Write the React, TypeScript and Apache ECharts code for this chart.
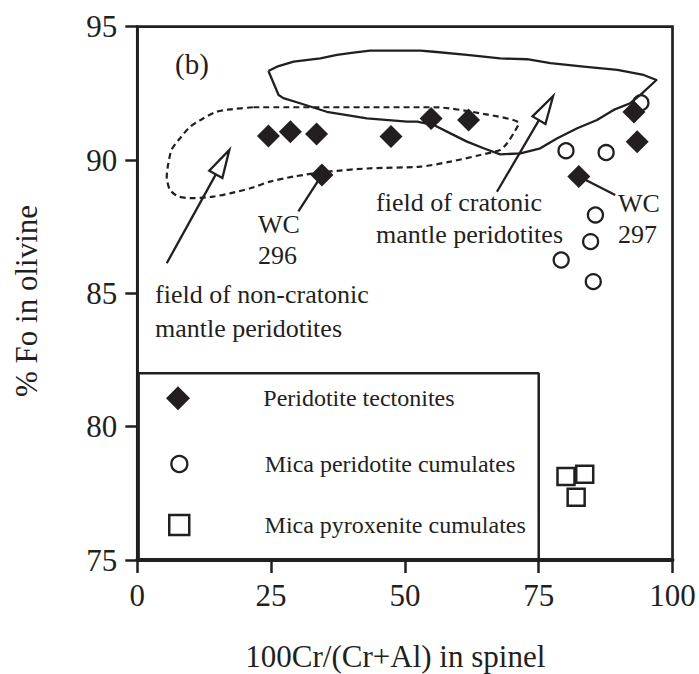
import React, { useEffect, useRef } from 'react';
import * as echarts from 'echarts';

const INK = '#231f20';
const FONT = '"Liberation Serif", "Times New Roman", serif';

// Axis ranges
const X_MIN = 0;
const X_MAX = 100;
const X_STEP = 25;
const Y_MIN = 75;
const Y_MAX = 95;
const Y_STEP = 5;

// Series names
const NAME_TECTONITES = 'Peridotite tectonites';
const NAME_MICA_PERIDOTITE = 'Mica peridotite cumulates';
const NAME_MICA_PYROXENITE = 'Mica pyroxenite cumulates';

// [100Cr/(Cr+Al) in spinel, % Fo in olivine]
const PERIDOTITE_TECTONITES: number[][] = [
  [24.5, 90.9], [28.6, 91.06], [33.5, 90.98], [47.4, 90.88], [34.5, 89.44],
  [54.9, 91.56], [61.9, 91.5], [92.8, 91.8], [93.4, 90.69], [82.5, 89.38],
];
const MICA_PERIDOTITE_CUMULATES: number[][] = [
  [94.1, 92.15], [80.1, 90.35], [87.6, 90.28], [85.6, 87.94], [84.7, 86.94],
  [79.2, 86.25], [85.2, 85.44],
];
const MICA_PYROXENITE_CUMULATES: number[][] = [
  [80.1, 78.13], [83.6, 78.22], [82.0, 77.35],
];

// Field outlines
const CRATONIC_FIELD: number[][] = [
  [24.5, 93.34], [26.1, 93.5], [29.2, 93.69], [34.2, 93.81], [37.3, 93.94], [40.4, 94.03],
  [43.5, 94.1], [52.9, 94.1], [55.4, 94.06], [61.6, 93.94], [67.8, 93.81], [72.8, 93.78],
  [77.2, 93.63], [83.4, 93.5], [89.7, 93.38], [94.6, 93.19], [97.0, 93.0],
  [94.0, 92.44], [92.1, 92.13], [89.0, 91.88], [85.9, 91.5], [82.2, 91.19], [78.4, 90.81],
  [75.3, 90.44], [71.6, 90.25], [67.8, 90.21], [64.7, 90.44], [61.6, 90.69], [58.5, 91.0],
  [55.4, 91.31], [52.3, 91.44], [50.4, 91.44], [42.9, 91.56], [35.4, 91.81], [30.4, 92.13],
  [27.3, 92.32], [26.4, 92.44], [24.5, 93.34],
];
const NON_CRATONIC_FIELD: number[][] = [
  [21.7, 91.98], [52.9, 91.98], [55.4, 91.98], [64.7, 91.73], [71.3, 91.38], [70.3, 91.0],
  [69.1, 90.63], [67.8, 90.38], [64.1, 90.19], [58.5, 89.94], [52.9, 89.75], [43.5, 89.69],
  [35.4, 89.56], [29.2, 89.38], [24.8, 89.19], [21.1, 88.94], [17.3, 88.75], [14.2, 88.63],
  [10.5, 88.57], [7.7, 88.63], [6.1, 88.88], [5.5, 89.38], [5.8, 89.88], [6.4, 90.38],
  [7.7, 90.75], [9.9, 91.25], [12.3, 91.56], [14.8, 91.81], [17.3, 91.9], [21.7, 91.98],
];

// Arrows [x0, y0, xTip, yTip] and leader lines [x0, y0, x1, y1]
const FIELD_ARROWS: number[][] = [
  [5.5, 86.13, 17.2, 90.38],
  [67.2, 88.81, 77.7, 92.4],
];
const LEADER_LINES: number[][] = [
  [34.5, 89.44, 30.1, 88.07],
  [82.5, 89.38, 89.3, 88.69],
];
// Legend frame corners in data units
const LEGEND_FRAME: number[][] = [[0.25, 75], [0.25, 82], [75, 82], [75, 75]];

export default function App() {
  const ref = useRef<HTMLDivElement>(null);

  useEffect(() => {
    if (!ref.current) return;
    const chart = echarts.init(ref.current, undefined, { renderer: 'svg' });

    const legendBase = {
      orient: 'vertical',
      padding: 0,
      itemWidth: 160.6,
      itemGap: 0,
      selectedMode: false,
      symbolKeepAspect: true,
      textStyle: { fontSize: 24, fontFamily: FONT, color: INK },
    };

    const segRender = (arrow: boolean) => (params: any, api: any) => {
      const p1 = api.coord([api.value(0), api.value(1)]);
      const p2 = api.coord([api.value(2), api.value(3)]);
      if (!arrow) {
        return {
          type: 'line',
          shape: { x1: p1[0], y1: p1[1], x2: p2[0], y2: p2[1] },
          style: { stroke: INK, lineWidth: 2.3 },
        };
      }
      const dx = p2[0] - p1[0];
      const dy = p2[1] - p1[1];
      const len = Math.hypot(dx, dy);
      const ux = dx / len;
      const uy = dy / len;
      const headLen = 28;
      const headW = 15;
      const bx = p2[0] - ux * headLen;
      const by = p2[1] - uy * headLen;
      const nx = -uy;
      const ny = ux;
      return {
        type: 'group',
        children: [
          {
            type: 'line',
            shape: { x1: p1[0], y1: p1[1], x2: bx, y2: by },
            style: { stroke: INK, lineWidth: 2.3 },
          },
          {
            type: 'polygon',
            shape: {
              points: [
                [p2[0], p2[1]],
                [bx + (nx * headW) / 2, by + (ny * headW) / 2],
                [bx - (nx * headW) / 2, by - (ny * headW) / 2],
              ],
            },
            style: { fill: '#ffffff', stroke: INK, lineWidth: 2.3, lineJoin: 'miter' },
          },
        ],
      };
    };

    const textEl = (text: string, x: number, y: number, size = 26) => ({
      type: 'text',
      x,
      y,
      z: 20,
      silent: true,
      style: {
        text,
        fontSize: size,
        fontFamily: FONT,
        fill: INK,
        align: 'left',
        verticalAlign: 'middle',
      },
    });

    chart.setOption({
      animation: false,
      textStyle: { fontFamily: FONT, color: INK },
      grid: {
        left: 137.3,
        top: 26.7,
        right: 26.5,
        bottom: 114,
        show: true,
        borderColor: INK,
        borderWidth: 2.7,
        backgroundColor: 'transparent',
      },
      xAxis: {
        type: 'value',
        min: X_MIN,
        max: X_MAX,
        interval: X_STEP,
        axisLine: { show: true, lineStyle: { color: INK, width: 4 } },
        axisTick: { show: true, length: 13, lineStyle: { color: INK, width: 2.5 } },
        axisLabel: { color: INK, fontSize: 31, fontFamily: FONT, margin: 20 },
        splitLine: { show: false },
      },
      yAxis: {
        type: 'value',
        min: Y_MIN,
        max: Y_MAX,
        interval: Y_STEP,
        axisLine: { show: true, lineStyle: { color: INK, width: 2.7 } },
        axisTick: { show: true, length: 12, lineStyle: { color: INK, width: 2.5 } },
        axisLabel: { color: INK, fontSize: 31, fontFamily: FONT, margin: 20 },
        splitLine: { show: false },
      },
      legend: [
        {
          ...legendBase,
          left: 166,
          top: 386.3,
          itemHeight: 24,
          data: [{ name: NAME_TECTONITES, icon: 'path://M0,-1L1,0L0,1L-1,0Z' }],
          itemStyle: { color: INK, borderWidth: 0 },
        },
        {
          ...legendBase,
          left: 170.2,
          top: 452,
          itemHeight: 16,
          data: [{ name: NAME_MICA_PERIDOTITE, icon: 'circle' }],
          itemStyle: { color: 'transparent', borderColor: INK, borderWidth: 2.3 },
        },
        {
          ...legendBase,
          left: 168,
          top: 513,
          itemHeight: 20,
          data: [{ name: NAME_MICA_PYROXENITE, icon: 'path://M0,0L1,0L1,1L0,1Z' }],
          itemStyle: { color: '#ffffff', borderColor: INK, borderWidth: 2.5 },
        },
      ],
      series: [
        {
          type: 'line',
          name: 'field of cratonic mantle peridotites',
          data: CRATONIC_FIELD,
          symbol: 'none',
          silent: true,
          z: 2,
          lineStyle: { color: INK, width: 2.3, join: 'round' },
        },
        {
          type: 'line',
          name: 'field of non-cratonic mantle peridotites',
          data: NON_CRATONIC_FIELD,
          symbol: 'none',
          smooth: 0.25,
          silent: true,
          z: 2,
          lineStyle: { color: INK, width: 2.2, type: [6, 4] },
        },
        {
          type: 'line',
          name: 'legend frame',
          data: LEGEND_FRAME,
          symbol: 'none',
          silent: true,
          z: 2,
          lineStyle: { color: INK, width: 2.5 },
        },
        {
          type: 'custom',
          name: 'arrows',
          data: FIELD_ARROWS,
          encode: { x: [0, 2], y: [1, 3] },
          silent: true,
          z: 3,
          renderItem: segRender(true),
        },
        {
          type: 'custom',
          name: 'leaders',
          data: LEADER_LINES,
          encode: { x: [0, 2], y: [1, 3] },
          silent: true,
          z: 3,
          renderItem: segRender(false),
        },
        {
          type: 'scatter',
          name: NAME_MICA_PYROXENITE,
          data: MICA_PYROXENITE_CUMULATES,
          symbol: 'rect',
          symbolSize: 17,
          silent: true,
          z: 5,
          itemStyle: { color: '#ffffff', borderColor: INK, borderWidth: 2.5, opacity: 1 },
        },
        {
          type: 'scatter',
          name: NAME_TECTONITES,
          data: PERIDOTITE_TECTONITES,
          symbol: 'diamond',
          symbolSize: 23,
          silent: true,
          z: 5,
          itemStyle: { color: INK, opacity: 1 },
        },
        {
          type: 'scatter',
          name: NAME_MICA_PERIDOTITE,
          data: MICA_PERIDOTITE_CUMULATES,
          symbol: 'circle',
          symbolSize: 15,
          silent: true,
          z: 6,
          itemStyle: { color: 'transparent', borderColor: INK, borderWidth: 2.3, opacity: 1 },
        },
      ],
      graphic: [
        textEl('(b)', 175, 63.6, 29),
        textEl('WC', 258, 224),
        textEl('296', 258, 255),
        textEl('field of non-cratonic', 155, 294.7),
        textEl('mantle peridotites', 155, 328),
        textEl('field of cratonic', 376, 202),
        textEl('mantle peridotites', 376, 234.7),
        textEl('WC', 618, 203.3),
        textEl('297', 618, 234),
        {
          type: 'text',
          x: 395.3,
          y: 656,
          silent: true,
          style: {
            text: '100Cr/(Cr+Al) in spinel',
            fontSize: 31,
            fontFamily: FONT,
            fill: INK,
            align: 'center',
            verticalAlign: 'middle',
          },
        },
        {
          type: 'text',
          x: 26,
          y: 301,
          rotation: Math.PI / 2,
          silent: true,
          style: {
            text: '% Fo in olivine',
            fontSize: 31,
            fontFamily: FONT,
            fill: INK,
            align: 'center',
            verticalAlign: 'middle',
          },
        },
      ],
    });

    return () => chart.dispose();
  }, []);

  return (
    <div
      ref={ref}
      style={{ position: 'fixed', left: 0, top: 0, width: 699, height: 674, background: '#ffffff' }}
    />
  );
}
